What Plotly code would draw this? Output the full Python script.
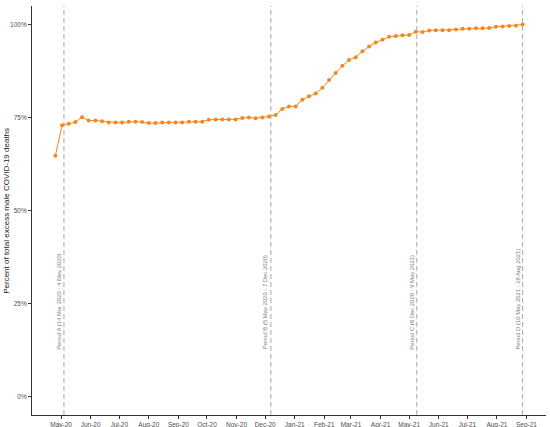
import pandas as pd
import plotly.graph_objects as go

# ---- data ----
start_week = "2020-04-25"
n_weeks = 71
pct_deaths = [
    0.647, 0.729, 0.733, 0.738, 0.751, 0.742, 0.742, 0.740, 0.737, 0.737,
    0.737, 0.739, 0.739, 0.738, 0.735, 0.735, 0.737, 0.737, 0.737, 0.737,
    0.739, 0.739, 0.739, 0.744, 0.745, 0.745, 0.745, 0.745, 0.749, 0.750,
    0.748, 0.750, 0.753, 0.757, 0.773, 0.780, 0.780, 0.798, 0.807, 0.815,
    0.830, 0.851, 0.870, 0.889, 0.905, 0.912, 0.928, 0.941, 0.952, 0.959,
    0.967, 0.969, 0.971, 0.972, 0.981, 0.980, 0.984, 0.985, 0.985, 0.985,
    0.987, 0.989, 0.989, 0.990, 0.990, 0.991, 0.994, 0.995, 0.996, 0.997,
    1.000,
]
period_ends = ["2020-05-04", "2020-12-07", "2021-05-09", "2021-08-28"]
period_labels = [
    "Period A (14 Mar 2020 - 4 May 2020)",
    "Period B (5 May 2020 - 7 Dec 2020)",
    "Period C (8 Dec 2020 - 9 May 2021)",
    "Period D (10 May 2021 - 28 Aug 2021)",
]
x_tick_vals = ["2020-05-01", "2020-06-01", "2020-07-01", "2020-08-01", "2020-09-01",
               "2020-10-01", "2020-11-01", "2020-12-01", "2021-01-01", "2021-02-01",
               "2021-03-01", "2021-04-01", "2021-05-01", "2021-06-01", "2021-07-01",
               "2021-08-01", "2021-09-01"]
x_tick_text = ["May-20", "Jun-20", "Jul-20", "Aug-20", "Sep-20", "Oct-20", "Nov-20",
               "Dec-20", "Jan-21", "Feb-21", "Mar-21", "Apr-21", "May-21", "Jun-21",
               "Jul-21", "Aug-21", "Sep-21"]
y_tick_vals = [0, 0.25, 0.5, 0.75, 1.0]
y_tick_text = ["0%", "25%", "50%", "75%", "100%"]

dates = pd.date_range(start_week, periods=n_weeks, freq="7D")
pad = pd.Timedelta(days=24.5)

ORANGE = "#F5871F"
AXIS = "#333333"
TICKTXT = "#4d4d4d"
FONT = "Liberation Sans, Arial, sans-serif"

fig = go.Figure()
fig.add_trace(go.Scatter(
    x=dates, y=pct_deaths, mode="lines+markers",
    line=dict(color=ORANGE, width=1),
    marker=dict(color=ORANGE, size=4),
    showlegend=False, hoverinfo="x+y",
))

for d, lab in zip(period_ends, period_labels):
    fig.add_shape(type="line", xref="x", yref="paper", x0=d, x1=d, y0=0, y1=1,
                  line=dict(color="#a8a8a8", width=1, dash="5px,3px"), layer="below")
    fig.add_annotation(x=d, y=0.121, xref="x", yref="y", text=lab, textangle=-90,
                       showarrow=False, xanchor="right", yanchor="bottom", xshift=0,
                       font=dict(size=5.9, color="#808080", family=FONT))

fig.add_annotation(x=-0.05, y=0.5, xref="paper", yref="paper",
                   text="Percent of total excess male COVID-19 deaths", textangle=-90,
                   showarrow=False, xanchor="center", yanchor="middle",
                   font=dict(size=8, color="#1a1a1a", family=FONT))

fig.update_layout(
    width=550, height=427,
    margin=dict(l=32, r=4, t=6, b=12, autoexpand=False),
    paper_bgcolor="white", plot_bgcolor="white",
    font=dict(family=FONT),
    xaxis=dict(
        range=[dates[0] - pad, dates[-1] + pad],
        tickvals=x_tick_vals, ticktext=x_tick_text,
        showline=True, linecolor=AXIS, linewidth=1,
        ticks="outside", ticklen=3, tickcolor=AXIS, tickwidth=1,
        showgrid=False, zeroline=False,
        tickfont=dict(size=6.5, color=TICKTXT), automargin=False,
    ),
    yaxis=dict(
        range=[-0.05, 1.05],
        tickvals=y_tick_vals, ticktext=y_tick_text,
        showline=True, linecolor=AXIS, linewidth=1,
        ticks="outside", ticklen=3, tickcolor=AXIS, tickwidth=1,
        showgrid=False, zeroline=False,
        tickfont=dict(size=6.5, color=TICKTXT), automargin=False,
    ),
)

fig.write_html("out.html", config={"displayModeBar": False},
               post_script="document.body.style.margin='0px';document.body.style.overflow='hidden';")
